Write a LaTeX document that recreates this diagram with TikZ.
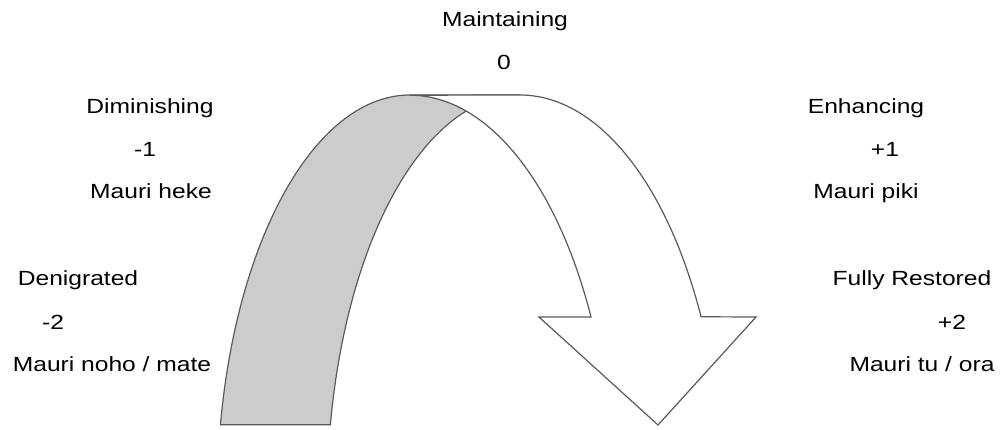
\documentclass[tikz,border=0pt]{standalone}
\usepackage{fontspec}
\setmainfont{Liberation Sans}[FakeStretch=1.2]
\usetikzlibrary{positioning}
\definecolor{band}{HTML}{CCCCCC}
\definecolor{rim}{HTML}{5A5A5A}

\begin{document}
\begin{tikzpicture}[x=1pt,y=1pt,
  lbl/.style={inner sep=0pt,anchor=base,font=\fontsize{20.5}{24}\selectfont},
  ribbon/.style={draw=rim,line width=1.2pt,line join=miter},
]
  \useasboundingbox (0,0) rectangle (1002,429);
  % back of the ribbon
  \filldraw[ribbon,fill=band] (220.4,4.2)
    arc[start angle=169.3,end angle=90,x radius=193,y radius=405]
    -- (520,334)
    arc[start angle=90,end angle=169.3,x radius=193,y radius=405] -- cycle;
  % front of the ribbon and the head
  \filldraw[ribbon,fill=white] (520,334)
    arc[start angle=90,end angle=26.9,x radius=203,y radius=405]
    -- (756,112) -- (658,4) -- (539,112) -- (591,112)
    arc[start angle=26.9,end angle=90,x radius=203,y radius=405] -- cycle;

  \node[lbl] (maint) at (505,402) {Maintaining};
  \node[lbl] (zero)  at (504,359) {0};

  \node[lbl] (dimin)  at (150,315) {Diminishing};
  \node[lbl] (minus1) at (145,272) {-1};
  \node[lbl] (heke)   at (151,230) {Mauri heke};

  \node[lbl] (denig)  at (78,143)  {Denigrated};
  \node[lbl] (minus2) at (53,100)  {-2};
  \node[lbl] (noho)   at (112,58)  {Mauri noho / mate};

  \node[lbl] (enh)   at (866,315) {Enhancing};
  \node[lbl] (plus1) at (885,272) {+1};
  \node[lbl] (piki)  at (866,230) {Mauri piki};

  \node[lbl] (restored) at (912,143) {Fully Restored};
  \node[lbl] (plus2)    at (952,100) {+2};
  \node[lbl] (tuora)    at (922,58)  {Mauri tu / ora};
\end{tikzpicture}
\end{document}
